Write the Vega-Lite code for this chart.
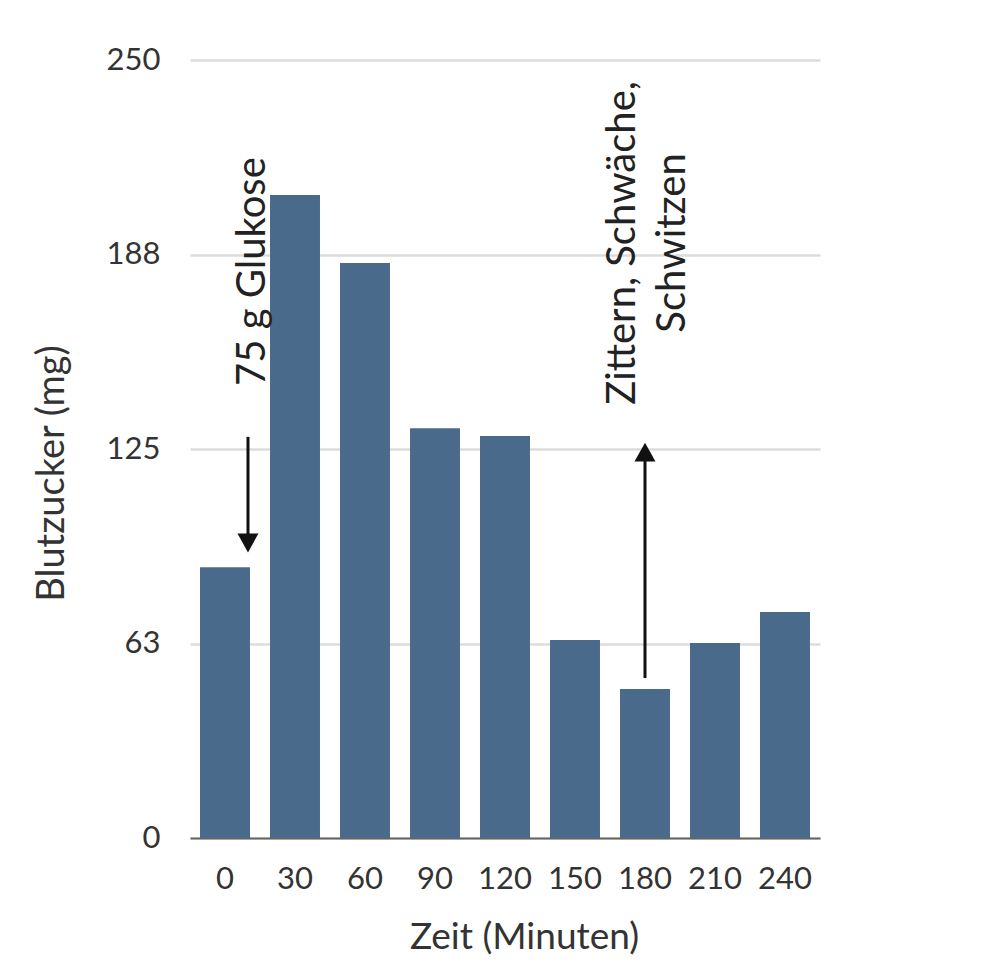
{
  "$schema": "https://vega.github.io/schema/vega-lite/v6.json",
  "autosize": "none",
  "width": 630,
  "height": 778,
  "padding": {"left": 190, "top": 60, "right": 180, "bottom": 129},
  "background": "white",
  "config": {
    "font": "Lato",
    "view": {"stroke": null}
  },
  "datasets": {
    "bars": [
      {"zeit": "0", "blutzucker": 87},
      {"zeit": "30", "blutzucker": 206.6},
      {"zeit": "60", "blutzucker": 184.8},
      {"zeit": "90", "blutzucker": 131.7},
      {"zeit": "120", "blutzucker": 129.2},
      {"zeit": "150", "blutzucker": 63.6},
      {"zeit": "180", "blutzucker": 47.9},
      {"zeit": "210", "blutzucker": 62.7},
      {"zeit": "240", "blutzucker": 72.6}
    ],
    "arrows": [
      {"zeit": "0", "y1": 128.9, "y2": 96, "head": 94.8, "dir": "down"},
      {"zeit": "180", "y1": 51.4, "y2": 122, "head": 124.0, "dir": "up"}
    ],
    "labels": [
      {"zeit": "0", "y": 182, "text": ["75 g Glukose"]},
      {"zeit": "180", "y": 191.2, "text": ["Zittern, Schwäche,", "Schwitzen"]}
    ]
  },
  "layer": [
    {
      "data": {"name": "bars"},
      "mark": {"type": "bar", "color": "#4a6a8c"},
      "encoding": {
        "x": {
          "field": "zeit",
          "type": "ordinal",
          "sort": null,
          "scale": {"paddingInner": 0.286, "paddingOuter": 0.143},
          "axis": {
            "title": "Zeit (Minuten)",
            "labelAngle": 0,
            "labelFont": "Lato",
            "labelFontSize": 31,
            "labelColor": "#333333",
            "labelPadding": 26,
            "ticks": false,
            "domainColor": "#666666",
            "domainWidth": 2,
            "titleFont": "Lato",
            "titleFontSize": 37,
            "titleFontWeight": "normal",
            "titleColor": "#333333",
            "titleX": 334,
            "titleY": 99,
            "titleBaseline": "middle",
            "titleAlign": "center"
          }
        },
        "y": {
          "field": "blutzucker",
          "type": "quantitative",
          "scale": {"domain": [0, 250], "nice": false, "zero": true},
          "axis": {
            "title": "Blutzucker (mg)",
            "values": [0, 62.5, 125, 187.5, 250],
            "format": ".0f",
            "domain": false,
            "ticks": false,
            "labelFont": "Lato",
            "labelFontSize": 31,
            "labelColor": "#333333",
            "labelPadding": 30,
            "gridColor": "#dcdcdc",
            "gridWidth": 2.5,
            "titleFont": "Lato",
            "titleFontSize": 38,
            "titleFontWeight": "normal",
            "titleColor": "#333333",
            "titleX": -138,
            "titleY": 413,
            "titleAngle": -90,
            "titleAlign": "center",
            "titleBaseline": "middle"
          }
        }
      }
    },
    {
      "data": {"name": "arrows"},
      "mark": {"type": "rule", "color": "#111111", "strokeWidth": 3},
      "encoding": {
        "x": {"field": "zeit", "type": "ordinal", "sort": null, "bandPosition": 0.96},
        "y": {"field": "y1", "type": "quantitative", "scale": {"domain": [0, 250], "nice": false}},
        "y2": {"field": "y2"}
      },
      "transform": [{"filter": "datum.dir === 'down'"}]
    },
    {
      "data": {"name": "arrows"},
      "mark": {"type": "rule", "color": "#111111", "strokeWidth": 3},
      "encoding": {
        "x": {"field": "zeit", "type": "ordinal", "sort": null, "bandPosition": 0.5},
        "y": {"field": "y1", "type": "quantitative", "scale": {"domain": [0, 250], "nice": false}},
        "y2": {"field": "y2"}
      },
      "transform": [{"filter": "datum.dir === 'up'"}]
    },
    {
      "data": {"name": "arrows"},
      "transform": [{"filter": "datum.dir === 'down'"}],
      "mark": {"type": "point", "filled": true, "color": "#111111", "opacity": 1, "shape": "M-1,-0.9L1,-0.9L0,0.9Z", "size": 440},
      "encoding": {
        "x": {"field": "zeit", "type": "ordinal", "sort": null, "bandPosition": 0.96},
        "y": {"field": "head", "type": "quantitative", "scale": {"domain": [0, 250], "nice": false}}
      }
    },
    {
      "data": {"name": "arrows"},
      "transform": [{"filter": "datum.dir === 'up'"}],
      "mark": {"type": "point", "filled": true, "color": "#111111", "opacity": 1, "shape": "M-1,0.9L1,0.9L0,-0.9Z", "size": 440},
      "encoding": {
        "x": {"field": "zeit", "type": "ordinal", "sort": null, "bandPosition": 0.5},
        "y": {"field": "head", "type": "quantitative", "scale": {"domain": [0, 250], "nice": false}}
      }
    },
    {
      "data": {"name": "labels"},
      "transform": [{"filter": "datum.zeit === '0'"}],
      "mark": {"type": "text", "angle": 270, "align": "center", "baseline": "middle", "font": "Lato", "fontSize": 40, "color": "#222222"},
      "encoding": {
        "x": {"field": "zeit", "type": "ordinal", "sort": null, "bandPosition": 1.06},
        "y": {"field": "y", "type": "quantitative", "scale": {"domain": [0, 250], "nice": false}},
        "text": {"field": "text"}
      }
    },
    {
      "data": {"name": "labels"},
      "transform": [{"filter": "datum.zeit === '180'"}],
      "mark": {"type": "text", "angle": 270, "align": "center", "baseline": "middle", "font": "Lato", "fontSize": 40, "lineHeight": 50, "color": "#222222"},
      "encoding": {
        "x": {"field": "zeit", "type": "ordinal", "sort": null, "bandPosition": 0.06},
        "y": {"field": "y", "type": "quantitative", "scale": {"domain": [0, 250], "nice": false}},
        "text": {"field": "text"}
      }
    }
  ]
}
